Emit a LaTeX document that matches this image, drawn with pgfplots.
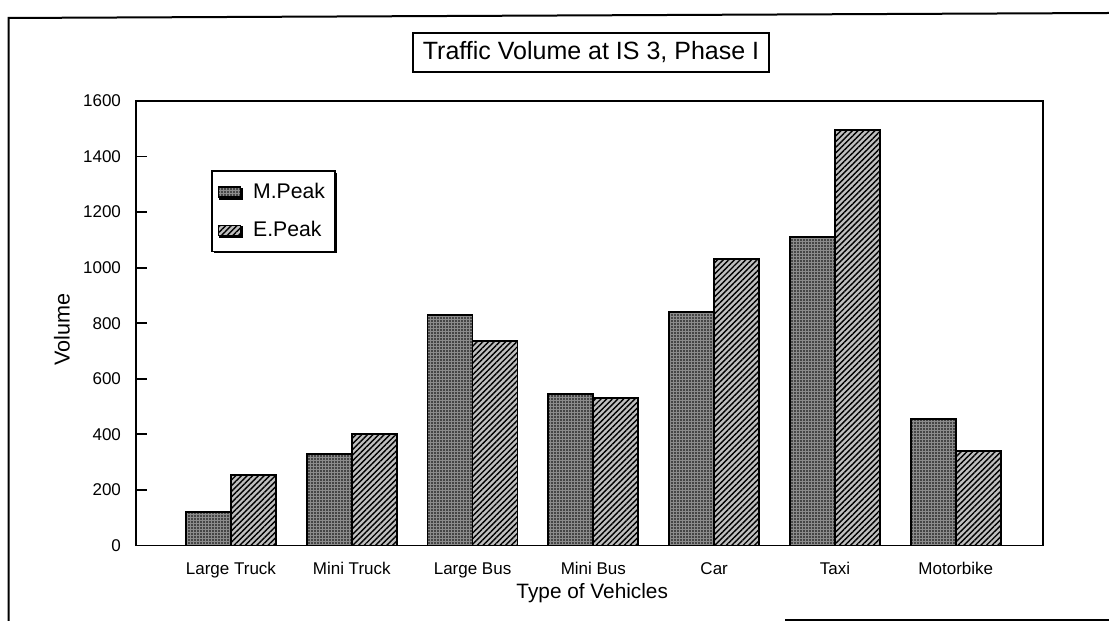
\documentclass[border=0pt]{standalone}
\usepackage{pgfplots}
\pgfplotsset{compat=1.18}
\usepackage{pgfplotstable}
\usetikzlibrary{patterns.meta,shadows}
\usepackage{fontspec}
\setmainfont{Liberation Sans}

\pgfplotstableread{
x M E
0 120 255
1 330 400
2 830 735
3 545 530
4 840 1030
5 1110 1495
6 455 340
}\datatable

\begin{document}
\begin{tikzpicture}
\begin{axis}[
  at={(68pt,37.75pt)}, anchor=south west,
  width=453.5pt, height=222.25pt, scale only axis,
  ybar=0pt, bar width=22.5pt,
  xmin=-0.786, xmax=6.722, ymin=0, ymax=1600,
  xtick={0,1,2,3,4,5,6},
  xticklabels={Large Truck, Mini Truck, Large Bus, Mini Bus, Car, Taxi, Motorbike},
  x tick style={draw=none},
  ytick={0,200,...,1600}, ytick pos=left, tick align=inside, major tick length=5.5pt,
  y tick style={line width=0.9pt, black},
  axis line style={line width=0.9pt},
  /pgf/number format/assume math mode=true, /pgf/number format/1000 sep={},
  scaled y ticks=false,
  ticklabel style={font=\fontsize{8.5}{10}\selectfont},
  yticklabel style={xshift=-4pt},
  xticklabel style={yshift=-5pt},
  xlabel={Type of Vehicles}, ylabel={Volume},
  xlabel style={at={(axis description cs:0.503,-0.107)}, anchor=center, font=\fontsize{10.4}{12}\selectfont},
  ylabel style={at={(axis description cs:-0.0816,0.486)}, anchor=center, font=\fontsize{10.8}{12}\selectfont},
  legend cell align=left,
  legend style={at={(0.0827,0.845)}, anchor=north west, draw=black, line width=0.9pt, fill=white,
    inner xsep=3pt, inner ysep=4pt, row sep=6pt, column sep=4pt, font=\fontsize{10.6}{12}\selectfont,
    drop shadow={shadow xshift=0.9pt, shadow yshift=-0.9pt, fill=black, opacity=1}},
  legend image code/.code={\draw[#1, line width=0.6pt] (0pt,-2.5pt) rectangle (11pt,2.5pt);},
]
\addplot[draw=black, line width=0.9pt, fill=black!45,
  postaction={pattern={Dots[distance=1.5pt,radius=0.45pt]}, pattern color=black}]
  table[x=x,y=M]{\datatable};
\addplot[draw=black, line width=0.9pt, fill=black!25,
  postaction={pattern={Lines[angle=45,distance=2pt,line width=0.7pt]}, pattern color=black}]
  table[x=x,y=E]{\datatable};
\legend{M.Peak, E.Peak}
\end{axis}
\node[draw=black, line width=0.8pt, fill=white, minimum width=178pt, minimum height=19.5pt,
  inner sep=0pt, font=\fontsize{12.5}{15}\selectfont] at (295.5pt,284.25pt) {Traffic Volume at IS 3, Phase I};
\draw[line width=1pt] (4.25pt,0pt) -- (4.25pt,301.5pt) -- (554.5pt,304pt);
\draw[line width=1pt] (392.5pt,0.5pt) -- (554.5pt,0.5pt);
\pgfresetboundingbox
\path[use as bounding box] (0pt,0pt) rectangle (554.5pt,310.5pt);
\end{tikzpicture}
\end{document}
